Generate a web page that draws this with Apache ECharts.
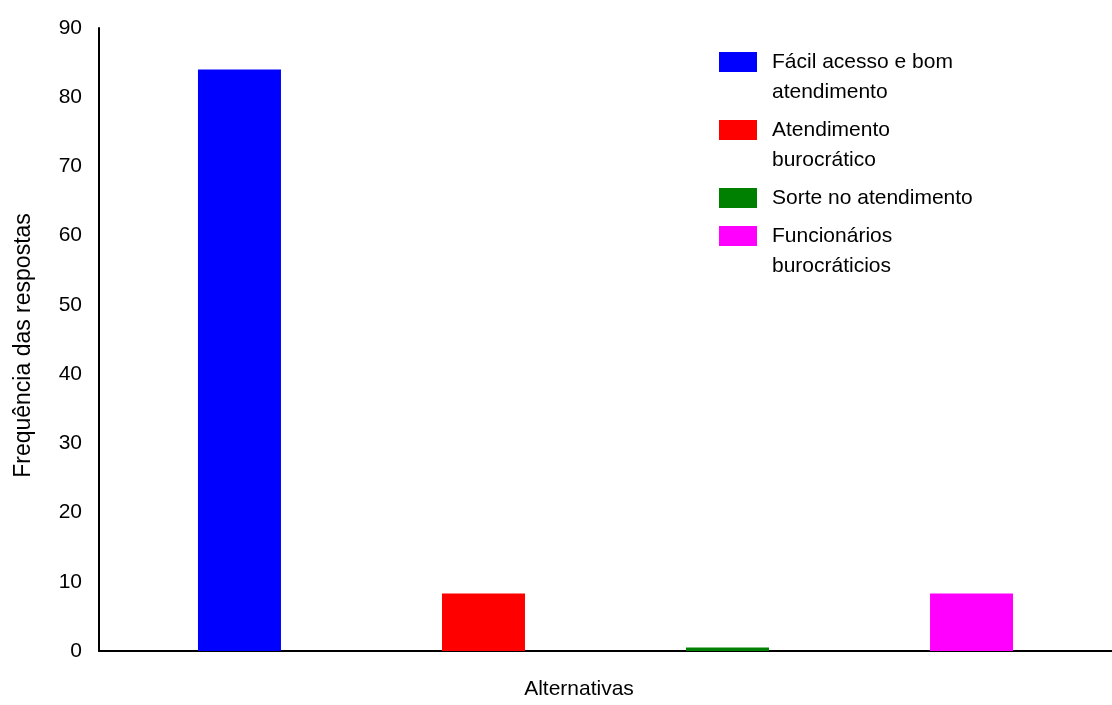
<!DOCTYPE html>
<html>
<head>
<meta charset="utf-8">
<title>Frequência das respostas</title>
<script src="https://cdn.jsdelivr.net/npm/echarts@6/dist/echarts.min.js"></script>
<style>
  html, body { margin: 0; padding: 0; background: #ffffff; }
  #chart { width: 1112px; height: 705px; }
</style>
</head>
<body>
<div id="chart"></div>
<script>
// Answer options (legend labels, wrapped as in the legend box)
const alternatives = [
  'Fácil acesso e bom\natendimento',
  'Atendimento\nburocrático',
  'Sorte no atendimento',
  'Funcionários\nburocráticios'
];
// Number of answers for each option
const answerCounts = [84, 8.3, 0.5, 8.3];
// Bar colours, one per option
const barColors = ['#0000ff', '#ff0000', '#008000', '#ff00ff'];
// Single category on the x axis
const categories = [''];
// Value axis ticks
const yMin = 0;
const yMax = 90;
const yStep = 10;

const FONT = '"Liberation Sans", Arial, sans-serif';

const series = alternatives.map((name, i) => ({
  name: name,
  type: 'bar',
  data: [answerCounts[i]],
  barWidth: 83,
  barGap: '194%',
  itemStyle: { color: barColors[i] },
  emphasis: { disabled: true }
}));

// One legend block per entry; wrapped labels get an empty leading line so the
// swatch sits level with their first line of text
const legendTops = [17, 85, 183, 191];
const legends = alternatives.map((name, i) => {
  const twoLines = name.indexOf('\n') >= 0;
  return {
    data: [name],
    orient: 'vertical',
    left: 719,
    top: legendTops[i],
    padding: 0,
    itemWidth: 38,
    itemHeight: 20,
    icon: 'rect',
    selectedMode: false,
    formatter: twoLines ? (n) => '\n' + n : (n) => n,
    textStyle: {
      fontFamily: FONT,
      fontSize: 21,
      color: '#000000',
      lineHeight: 30,
      padding: [0, 0, 0, 10]
    }
  };
});

const chart = echarts.init(document.getElementById('chart'), null, { renderer: 'canvas' });
chart.setOption({
  animation: false,
  backgroundColor: '#ffffff',
  textStyle: { fontFamily: FONT },
  legend: legends,
  grid: { left: 99, right: -4, top: 28, bottom: 51, containLabel: false },
  xAxis: {
    type: 'category',
    data: categories,
    name: 'Alternativas',
    nameLocation: 'middle',
    nameGap: 28,
    nameTextStyle: { fontFamily: FONT, fontSize: 21, color: '#000000', padding: [0, 53, 0, 0] },
    axisLine: { show: true, lineStyle: { color: '#000000', width: 2 } },
    axisTick: { show: false },
    axisLabel: { show: false },
    splitLine: { show: false }
  },
  yAxis: {
    type: 'value',
    min: yMin,
    max: yMax,
    interval: yStep,
    name: 'Frequência das respostas',
    nameLocation: 'middle',
    nameGap: 64,
    nameRotate: 90,
    nameTextStyle: { fontFamily: FONT, fontSize: 23, color: '#000000', padding: [0, 12, 0, 0] },
    axisLine: { show: true, lineStyle: { color: '#000000', width: 2 } },
    axisTick: { show: false },
    axisLabel: { fontFamily: FONT, fontSize: 21, color: '#000000', margin: 17 },
    splitLine: { show: false }
  },
  series: series
});
</script>
</body>
</html>
